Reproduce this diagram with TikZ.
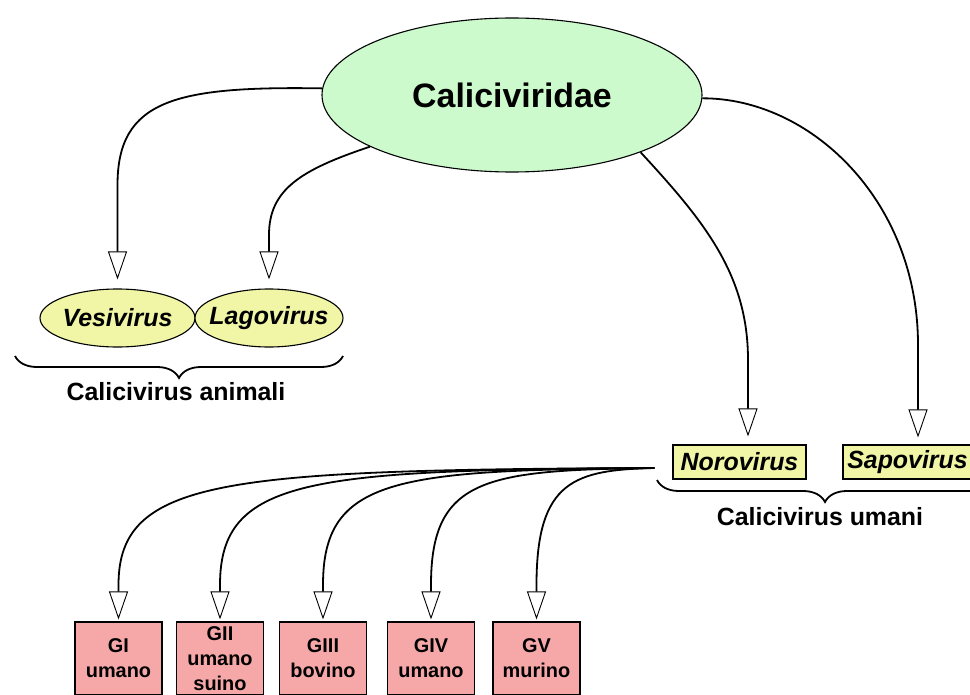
\documentclass[tikz,border=0pt]{standalone}
\usepackage{fontspec}
\setmainfont{Liberation Sans}
\usetikzlibrary{arrows.meta,shapes.geometric,decorations.pathreplacing}
\definecolor{calgreen}{RGB}{204,250,204}
\definecolor{calyellow}{RGB}{240,246,165}
\definecolor{calpink}{RGB}{246,168,168}
\begin{document}
\begin{tikzpicture}[x=1bp,y=-1bp,
  conn/.style={line width=1.8bp, draw=black,
    -{Triangle[open,length=28bp,width=19bp,line width=0.9bp]}},
  rootnode/.style={ellipse, draw, line width=1.1bp, fill=calgreen,
    minimum width=380bp, minimum height=154bp, inner sep=0pt,
    font=\fontsize{34}{40}\selectfont\bfseries},
  genusell/.style={ellipse, draw, line width=1.1bp, fill=calyellow,
    minimum height=58bp, inner sep=0pt,
    font=\fontsize{25}{30}\selectfont\bfseries\itshape},
  genusbox/.style={rectangle, draw, line width=1.1bp, fill=calyellow,
    minimum height=34bp, inner sep=0pt,
    font=\fontsize{25}{30}\selectfont\bfseries\itshape},
  grpbox/.style={rectangle, draw, line width=1.1bp, fill=calpink,
    minimum width=87bp, minimum height=73bp, inner sep=0pt, align=center,
    font=\fontsize{20}{25}\selectfont\bfseries},
  bracelab/.style={font=\fontsize{25}{30}\selectfont\bfseries, inner sep=0pt},
  bracedec/.style={decorate, decoration={brace, amplitude=22bp, mirror},
    line width=1.8bp}
]
\useasboundingbox (0,0) rectangle (970,695);

% nodes
\node[rootnode] (main) at (512,95) {Caliciviridae};
\node[genusell, minimum width=155bp] (ves) at (117.5,318) {\makebox[80bp]{Vesivirus}};
\node[genusell, minimum width=148bp] (lag) at (269,318) {\makebox[80bp]{Lagovirus}};
\node[genusbox, minimum width=133bp] (noro) at (739.5,462) {Norovirus};
\node[genusbox, minimum width=129bp] (sapo) at (907.5,462) {Sapovirus};

\node[grpbox] (g1) at (118.5,658.5) {GI\\umano};
\node[grpbox] (g2) at (220,658.5) {GII\\umano\\suino};
\node[grpbox] (g3) at (323,658.5) {GIII\\bovino};
\node[grpbox] (g4) at (431,658.5) {GIV\\umano};
\node[grpbox] (g5) at (536.5,658.5) {GV\\murino};

% braces and labels
\draw[bracedec] (15,356) -- (343,356);
\node[bracelab] (anim) at (176,392) {Calicivirus animali};
\draw[bracedec] (657,480) -- (993,480);
\node[bracelab] (uman) at (820,517) {Calicivirus umani};

% connectors from Caliciviridae
\draw[conn, shorten >=9bp] (main.178) .. controls (175,86) and (117.5,100) .. (117.5,185) -- (ves.north);
\draw[conn, shorten >=9bp] (main.200) .. controls (300,170) and (269,190) .. (269,235) -- (lag.north);
\draw[conn, shorten >=8bp] (main.336) .. controls (705,222) and (748,275) .. (748,360) -- ([xshift=8.5bp]noro.north);
\draw[conn, shorten >=7bp] (main.359) .. controls (810,98) and (918,200) .. (918,345) -- ([xshift=10.5bp]sapo.north);

% connectors from Norovirus
\coordinate (nsrc) at ([xshift=-18bp,yshift=-6bp]noro.west);
\draw[conn, shorten >=2bp] (nsrc) .. controls (225,470) and (118.5,478) .. (118.5,585) -- (g1.north);
\draw[conn, shorten >=2bp] (nsrc) .. controls (309,470) and (220,478) .. (220,585) -- (g2.north);
\draw[conn, shorten >=2bp] (nsrc) .. controls (395,470) and (323,478) .. (323,585) -- (g3.north);
\draw[conn, shorten >=2bp] (nsrc) .. controls (485,470) and (431,478) .. (431,585) -- (g4.north);
\draw[conn, shorten >=2bp] (nsrc) .. controls (575,470) and (536.5,480) .. (536.5,585) -- (g5.north);
\end{tikzpicture}
\end{document}
